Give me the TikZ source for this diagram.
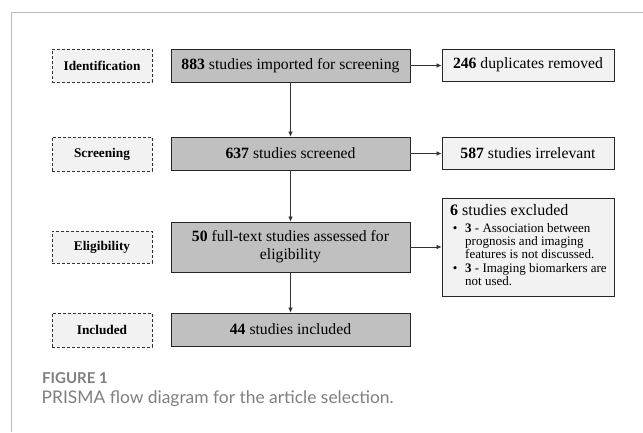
\documentclass[tikz,border=0pt]{standalone}
\usepackage{fontspec}
\setmainfont{Liberation Serif}
\newfontfamily\capfont{Lato}
\usetikzlibrary{arrows.meta}
\definecolor{maingray}{HTML}{C0C0C0}
\definecolor{lightgray2}{HTML}{F2F2F2}
\definecolor{framegray}{HTML}{BBBBBB}
\definecolor{capgray}{HTML}{7F7F7F}
\tikzset{
  stagebox/.style={draw=black!80, dashed, dash pattern=on 3pt off 2pt, fill=lightgray2, line width=0.8pt,
     minimum width=100pt, minimum height=33pt, inner sep=0pt, font=\fontsize{13.3}{15}\selectfont\bfseries},
  mainbox/.style={draw=black!85, fill=maingray, line width=0.9pt, minimum width=239pt, minimum height=33pt,
     inner sep=2pt, align=center, font=\fontsize{15.7}{18}\selectfont},
  sidebox/.style={draw=black!85, fill=lightgray2, line width=0.9pt, minimum width=172pt, minimum height=32pt,
     inner sep=0pt, font=\fontsize{15.7}{17}\selectfont},
  flowarrow/.style={draw=black!80, line width=0.6pt, -{Latex[length=5pt,width=4.5pt]}}
}
\begin{document}
\begin{tikzpicture}[x=1pt,y=-1pt]
\useasboundingbox (0,0) rectangle (643,432);
\fill[white] (0,0) rectangle (643,432);
\draw[framegray, line width=0.9pt] (643,12) -- (11.5,12) -- (11.5,432);

\node[stagebox] (id) at (102,65.5) {Identification};
\node[stagebox, minimum height=34pt] (scr) at (102,154) {Screening};
\node[stagebox, minimum height=32pt] (eli) at (102,247) {Eligibility};
\node[stagebox, minimum height=34pt] (inc) at (102,330) {Included};

\node[mainbox] (b1) at (290.5,65.5) {\textbf{883} studies imported for screening};
\node[mainbox] (b2) at (290.5,153.5) {\textbf{637} studies screened};
\node[mainbox, minimum height=50pt] (b3) at (290.5,247) {\textbf{50} full-text studies assessed for\\eligibility};
\node[mainbox] (b4) at (290.5,329.5) {\textbf{44} studies included};

\node[sidebox] (dup) at (528,65) {\textbf{246} duplicates removed};
\node[sidebox] (irr) at (528,153) {\textbf{587} studies irrelevant};
\node[sidebox, minimum height=98pt] (exc) at (528,247) {};
\node[anchor=north west, inner sep=0pt, align=left, font=\fontsize{13}{13.3}\selectfont] (exctext) at (450,204)
 {{\fontsize{16}{17}\selectfont\textbf{6} studies excluded}\\[3.7pt]
  \makebox[15pt][l]{\hspace{2.7pt}•}\textbf{3} - Association between\\
  \hspace*{15pt}prognosis and imaging\\
  \hspace*{15pt}features is not discussed.\\
  \makebox[15pt][l]{\hspace{2.7pt}•}\textbf{3} - Imaging biomarkers are\\
  \hspace*{15pt}not used.};

\draw[flowarrow] (b1) -- (b2);
\draw[flowarrow] (b2) -- (b3);
\draw[flowarrow] (b3) -- (b4);
\draw[flowarrow] (b1.east) -- (dup.west |- b1.east);
\draw[flowarrow] (b2.east) -- (irr.west |- b2.east);
\draw[flowarrow] (b3.east) -- (exc.west |- b3.east);

\node[anchor=west, inner sep=0pt, text=capgray, font=\capfont\fontsize{15}{17}\selectfont\bfseries] (fig) at (42,378) {FIGURE 1};
\node[anchor=west, inner sep=0pt, text=capgray, font=\capfont\fontsize{17.4}{20}\selectfont] (cap) at (41.5,399) {PRISMA flow diagram for the article selection.};
\end{tikzpicture}
\end{document}
